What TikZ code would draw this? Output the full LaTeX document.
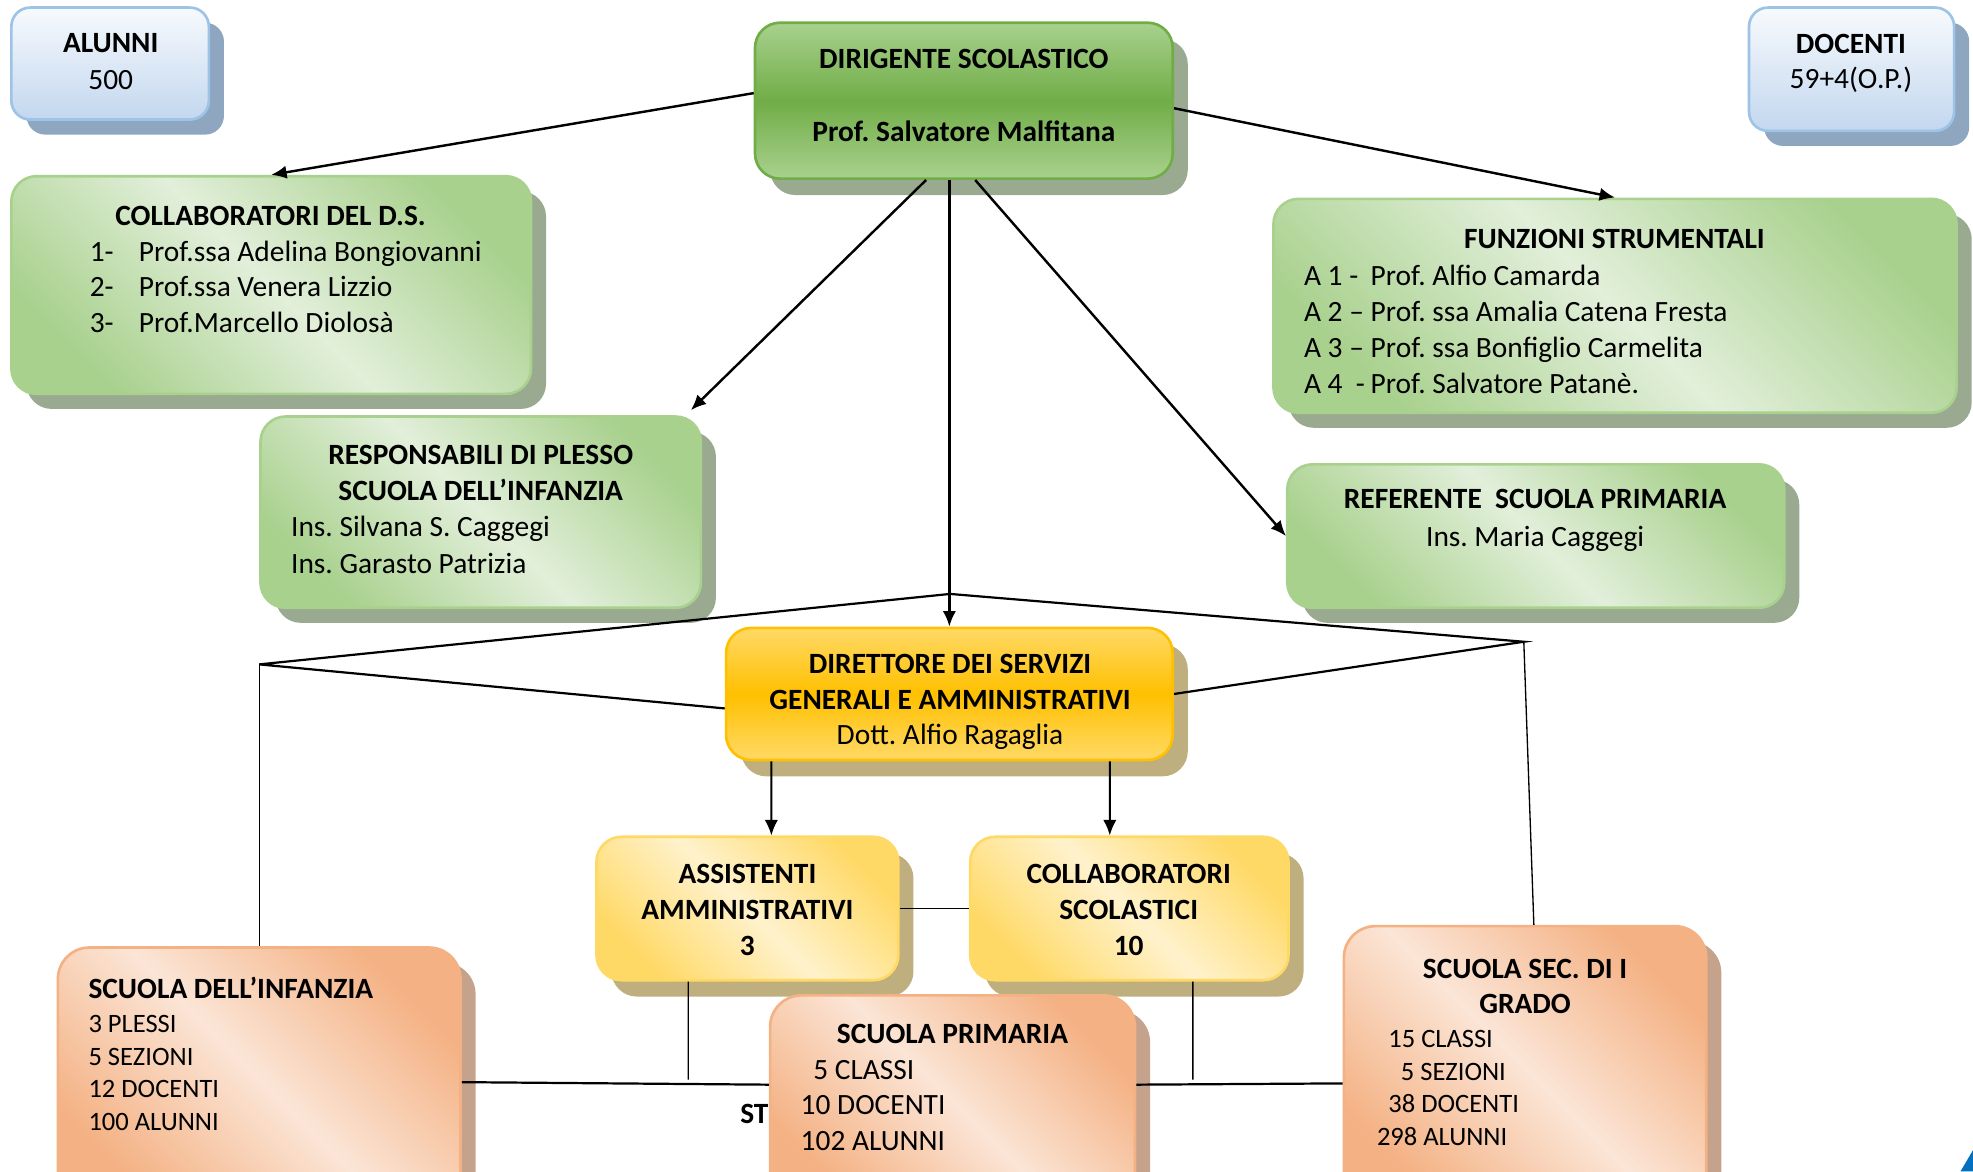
\documentclass[tikz,border=0pt]{standalone}
\usepackage{fontspec}
\setmainfont{Carlito}
\frenchspacing
\usetikzlibrary{shadows,arrows.meta}

\definecolor{bluetop}{HTML}{F7FAFD}
\definecolor{bluebot}{HTML}{C3D7EF}
\definecolor{blueline}{HTML}{9DC3E6}
\definecolor{blueshadow}{HTML}{8EA6C0}
\definecolor{grdark}{HTML}{A9D18E}
\definecolor{grlight}{HTML}{E2EFDA}
\definecolor{grmid}{HTML}{70AD47}
\definecolor{grshadow}{HTML}{9AAA91}
\definecolor{ydark}{HTML}{FFC000}
\definecolor{ymid}{HTML}{FFD966}
\definecolor{ylight}{HTML}{FFF2CC}
\definecolor{yshadow}{HTML}{BFAE7E}
\definecolor{sdark}{HTML}{F4B183}
\definecolor{slight}{HTML}{FBE5D6}
\definecolor{sshadow}{HTML}{C4A28C}
\definecolor{cornerblue}{HTML}{0070C0}

\begin{document}
\begin{tikzpicture}[x=0.02cm,y=-0.02cm,>={Latex[length=7pt,width=6pt]},
    box/.style={rectangle,rounded corners=0.4cm,line width=1.2pt,inner sep=0pt},
    bluebox/.style={box,rounded corners=0.3cm,draw=blueline,top color=bluetop,bottom color=bluebot,
      drop shadow={shadow xshift=0.24cm,shadow yshift=-0.24cm,fill=blueshadow,opacity=1}},
    dsbox/.style={box,draw=grmid,top color=grdark,bottom color=grdark,middle color=grmid,
      drop shadow={shadow xshift=0.24cm,shadow yshift=-0.26cm,fill=grshadow,opacity=1}},
    greenbox/.style={box,draw=grdark,top color=grdark,bottom color=grdark,middle color=grlight,shading angle=-45,
      drop shadow={shadow xshift=0.24cm,shadow yshift=-0.24cm,fill=grshadow,opacity=1}},
    dsgabox/.style={box,draw=ydark,top color=ymid,bottom color=ymid,middle color=ydark,
      drop shadow={shadow xshift=0.24cm,shadow yshift=-0.26cm,fill=yshadow,opacity=1}},
    yellowbox/.style={box,draw=ymid,top color=ymid,bottom color=ymid,middle color=ylight,shading angle=-45,
      drop shadow={shadow xshift=0.24cm,shadow yshift=-0.26cm,fill=yshadow,opacity=1}},
    salmonbox/.style={box,rounded corners=0.5cm,draw=sdark,top color=sdark,bottom color=sdark,middle color=slight,shading angle=-45,
      drop shadow={shadow xshift=0.24cm,shadow yshift=-0.24cm,fill=sshadow,opacity=1}},
    txt/.style={inner sep=0pt,anchor=base,yshift=-0.03cm,font=\fontsize{13.3}{16}\selectfont},
    btxt/.style={txt,font=\fontsize{13.3}{16}\selectfont\bfseries},
    ltxt/.style={txt,anchor=base west},
    lbtxt/.style={btxt,anchor=base west},
    lstxt/.style={inner sep=0pt,anchor=base west,yshift=-0.03cm,font=\fontsize{12}{14.5}\selectfont},
    arr/.style={->,line width=1.1pt},
    sarr/.style={->,line width=0.9pt},
    ln/.style={line width=1pt},
    thinln/.style={line width=0.6pt}]

\useasboundingbox (0,0) rectangle (1568,931);
\clip (0,0) rectangle (1568,931);

% boxes
\node[bluebox,minimum width=3.14cm,minimum height=1.78cm] (alunni) at (87.5,50.5) {};
\node[bluebox,minimum width=3.26cm,minimum height=1.96cm] (docenti) at (1471.5,55) {};
\node[dsbox,minimum width=6.64cm,minimum height=2.48cm] (ds) at (766,80) {};
\node[greenbox,minimum width=8.26cm,minimum height=3.46cm] (collab) at (215.5,226.5) {};
\node[greenbox,minimum width=10.86cm,minimum height=3.4cm] (funzioni) at (1283.5,243) {};
\node[greenbox,minimum width=7cm,minimum height=3.04cm] (resp) at (382,407) {};
\node[greenbox,minimum width=7.9cm,minimum height=2.28cm] (referente) at (1220.5,426) {};
\node[dsgabox,minimum width=7.1cm,minimum height=2.1cm] (dsga) at (754.5,551.5) {};
\node[yellowbox,minimum width=4.8cm,minimum height=2.28cm] (assist) at (594,722) {};
\node[yellowbox,minimum width=5.06cm,minimum height=2.28cm] (collsc) at (897.5,722) {};
\node[salmonbox,minimum width=6.4cm,minimum height=4.14cm] (infanzia) at (206,856.5) {};
\node[lbtxt] (st) at (588,891) {ST};
\node[salmonbox,minimum width=5.8cm,minimum height=3.38cm] (primaria) at (757,875.5) {};
\node[salmonbox,minimum width=5.76cm,minimum height=4.48cm] (sec) at (1212,848) {};
\fill[cornerblue] (1558,931) -- (1568,914) -- (1568,931) -- cycle;

% texts
\node[btxt] (alunni1) at (88,40) {ALUNNI};
\node[txt] (alunni2) at (88,70) {500};
\node[btxt] (docenti1) at (1471,41) {DOCENTI};
\node[txt] (docenti2) at (1471,69) {59+4(O.P.)};
\node[btxt] (ds1) at (766,53) {DIRIGENTE SCOLASTICO};
\node[btxt] (ds2) at (766,111) {Prof. Salvatore Malfitana};

\node[btxt] (collab0) at (215,178) {COLLABORATORI DEL D.S.};
\foreach \num/\name [count=\i] in {1-/Prof.ssa Adelina Bongiovanni,2-/Prof.ssa Venera Lizzio,3-/Prof.Marcello Diolosà}
  \node[ltxt] (collab\i) at (71,{177.5+28.5*\i}) {\makebox[0.78cm][l]{\num}\name};

\node[btxt] (funz0) at (1283,196) {FUNZIONI STRUMENTALI};
\foreach \pre/\name [count=\i] in {A 1 -/Prof. Alfio Camarda,A 2 –/Prof. ssa Amalia Catena Fresta,A 3 –/Prof. ssa Bonfiglio Carmelita,A 4\ \ -/Prof. Salvatore Patanè.}
  \node[ltxt] (funz\i) at (1036,{196.5+28.6*\i}) {\makebox[1.06cm][l]{\pre}\name};

\node[btxt] (resp1) at (382,368) {RESPONSABILI DI PLESSO};
\node[btxt] (resp2) at (382,396) {SCUOLA DELL’INFANZIA};
\node[ltxt] (resp3) at (231,425) {Ins. Silvana S. Caggegi};
\node[ltxt] (resp4) at (231,454) {Ins. Garasto Patrizia};

\node[btxt] (ref1) at (1220,403) {REFERENTE\ \ SCUOLA PRIMARIA};
\node[txt] (ref2) at (1220,433) {Ins. Maria Caggegi};

\node[btxt] (dsga1) at (755,534) {DIRETTORE DEI SERVIZI};
\node[btxt] (dsga2) at (755,562) {GENERALI E AMMINISTRATIVI};
\node[txt] (dsga3) at (755,590) {Dott. Alfio Ragaglia};

\foreach \l [count=\i] in {ASSISTENTI,AMMINISTRATIVI,3}
  \node[btxt] (assist\i) at (594,{672.5+28.5*\i}) {\l};
\foreach \l [count=\i] in {COLLABORATORI,SCOLASTICI,10}
  \node[btxt] (collsc\i) at (897,{672.5+28.5*\i}) {\l};

\node[lbtxt] (inf0) at (70,792) {SCUOLA DELL’INFANZIA};
\foreach \l [count=\i] in {3 PLESSI,5 SEZIONI,12 DOCENTI,100 ALUNNI}
  \node[lstxt] (inf\i) at (70,{793+26*\i}) {\l};

\node[btxt] (prim0) at (757,828) {SCUOLA PRIMARIA};
\node[ltxt] (prim1) at (646,856) {5 CLASSI};
\node[ltxt] (prim2) at (636,884) {10 DOCENTI};
\node[ltxt] (prim3) at (636,913) {102 ALUNNI};

\node[btxt] (sec1) at (1212,776) {SCUOLA SEC. DI I};
\node[btxt] (sec2) at (1212,804) {GRADO};
\node[lstxt] (sec3) at (1103,831) {15 CLASSI};
\node[lstxt] (sec4) at (1113,857) {5 SEZIONI};
\node[lstxt] (sec5) at (1103,883) {38 DOCENTI};
\node[lstxt] (sec6) at (1094,909) {298 ALUNNI};

% connectors
\draw[arr] ([yshift=0.12cm]ds.west) -- (collab.north);
\draw[arr] ([yshift=-0.12cm]ds.east) -- (funzioni.north);
\draw[arr] ([xshift=-0.6cm]ds.south) -- ([xshift=-0.18cm,yshift=0.08cm]resp.north east);
\draw[arr] (ds.south -| dsga.north) -- (dsga.north);
\draw[arr] ([xshift=0.18cm]ds.south) -- (referente.west);

\coordinate (apex) at (755,472);
\coordinate (lc) at (206,528);
\coordinate (rc) at (1211,510);
\draw[ln] ([yshift=-0.23cm]dsga.west) -- (lc) -- (apex) -- (rc) -- (dsga.east);
\draw[thinln] (lc) -- (infanzia.north);
\draw[thinln] (rc) -- ([xshift=0.14cm]sec.north);

\draw[sarr] ([xshift=-2.83cm]dsga.south) -- ([xshift=0.38cm]assist.north);
\draw[sarr] ([xshift=2.55cm]dsga.south) -- ([xshift=-0.31cm]collsc.north);
\draw[thinln] (assist.east) -- (collsc.west);
\coordinate (al) at (547,858);
\coordinate (cr) at (948,858);
\draw[thinln] ([xshift=-0.94cm]assist.south) -- (al);
\draw[thinln] ([xshift=1.01cm]collsc.south) -- (cr);
\draw[ln] ([yshift=-0.07cm]infanzia.east) -- ([yshift=0.27cm]primaria.west);
\draw[ln] ([yshift=0.27cm]primaria.east) -- ([yshift=-0.26cm]sec.west);
\end{tikzpicture}
\end{document}
